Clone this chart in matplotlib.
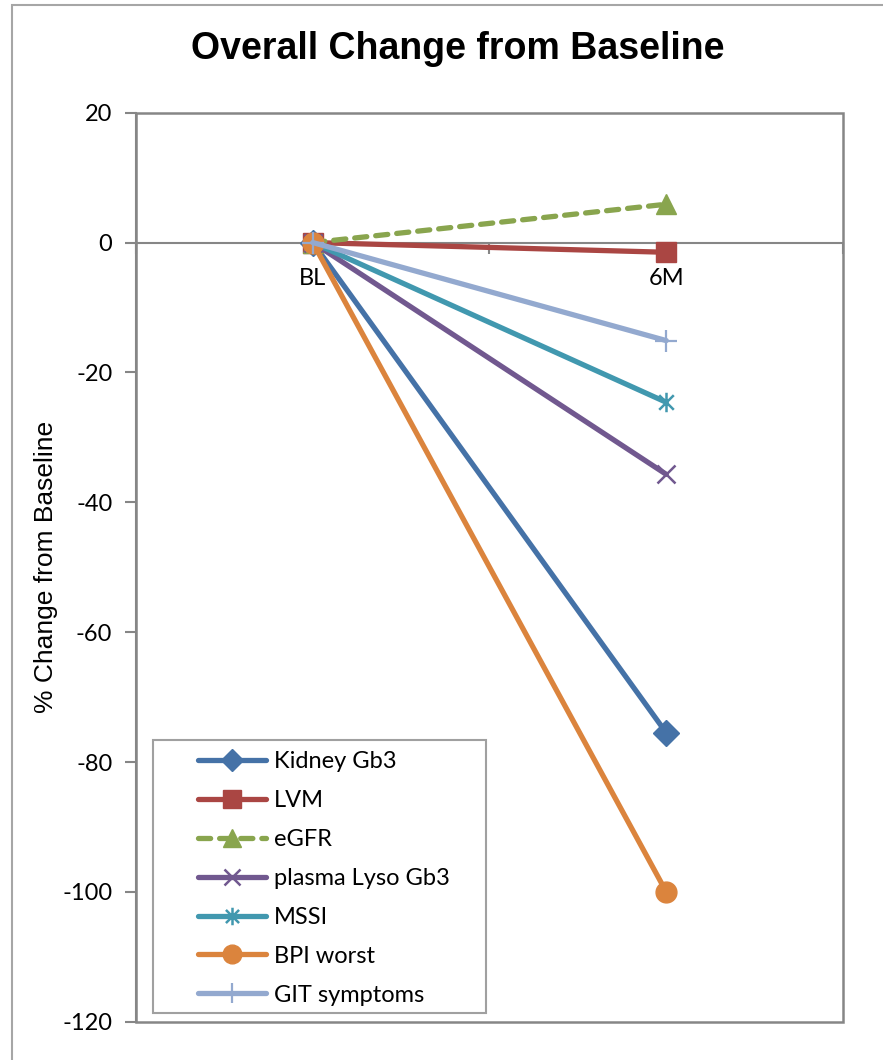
import matplotlib
matplotlib.use("Agg")
import matplotlib.pyplot as plt
from matplotlib.patches import Rectangle
from matplotlib.path import Path

plt.rcParams["axes.unicode_minus"] = False

# time points and % change from baseline for each measure
timepoints = ["BL", "6M"]
series_names = ["Kidney Gb3", "LVM", "eGFR", "plasma Lyso Gb3", "MSSI", "BPI worst", "GIT symptoms"]
kidney_gb3 = [0, -75.5]
lvm = [0, -1.5]
egfr = [0, 5.9]
lyso_gb3 = [0, -35.7]
mssi = [0, -24.6]
bpi_worst = [0, -100]
git_symptoms = [0, -15.1]

values = [kidney_gb3, lvm, egfr, lyso_gb3, mssi, bpi_worst, git_symptoms]

# asterisk marker: vertical bar plus an x
star = Path([(0, -1), (0, 1), (-0.75, -0.75), (0.75, 0.75), (-0.75, 0.75), (0.75, -0.75)],
            [Path.MOVETO, Path.LINETO, Path.MOVETO, Path.LINETO, Path.MOVETO, Path.LINETO])

styles = [
    dict(color="#4572A7", marker="D", ms=13),
    dict(color="#AA4643", marker="s", ms=14),
    dict(color="#89A54E", marker="^", ms=15, ls=(0, (2.3, 1.7))),
    dict(color="#71588F", marker="x", ms=13, mew=1.8),
    dict(color="#4198AF", marker=star, ms=14, mew=1.8),
    dict(color="#DB843D", marker="o", ms=15),
    dict(color="#93A9CF", marker="+", ms=16, mew=1.6),
]

grey = "#868686"
lato = ["Lato", "DejaVu Sans"]
arial = ["Liberation Sans", "DejaVu Sans"]

W, H = 883, 1060
fig = plt.figure(figsize=(W / 100, H / 100), dpi=100)
ax = fig.add_axes([0.154, 0.0361, 0.8007, 0.8576])

x = list(range(len(timepoints)))
for i, (name, vals, st) in enumerate(zip(series_names, values, styles)):
    st = dict(st)
    ls = st.pop("ls", "-")
    ax.plot(x, vals, label=name, lw=3.8, linestyle=ls, dash_capstyle="round",
            solid_capstyle="round", markeredgecolor=st["color"], zorder=3 + i, **st)

ax.set_xlim(-0.5, 1.5)
ax.set_ylim(-120, 20)
ax.set_yticks(range(-120, 21, 20))
ax.tick_params(axis="y", length=8, width=1.5, color=grey, pad=9, labelsize=17)
for lab in ax.get_yticklabels():
    lab.set_family(lato)

# category axis sits on the zero line
ax.spines["bottom"].set_position(("data", 0))
ax.set_xticks([-0.5, 0.5, 1.5])
ax.set_xticklabels([])
ax.set_xticks(x, minor=True)
ax.set_xticklabels(timepoints, minor=True, fontsize=17, family=lato)
ax.tick_params(axis="x", which="major", length=8, width=1.5, color=grey)
ax.tick_params(axis="x", which="minor", length=0, pad=18)
for side in ["top", "right"]:
    ax.spines[side].set_visible(False)
for side in ["left", "bottom"]:
    ax.spines[side].set_color(grey)
    ax.spines[side].set_linewidth(1.5)
ax.add_patch(Rectangle((0, 0), 1, 1, transform=ax.transAxes, fill=False,
                       ec=grey, lw=1.8, clip_on=False, zorder=1))

ax.set_ylabel("% Change from Baseline", fontsize=19, family=arial)
ax.yaxis.set_label_coords(-0.11, 0.5)

fig.text(0.518, 0.954, "Overall Change from Baseline", ha="center", va="center",
         fontsize=27, fontweight="bold", family=arial)

# legend entries, frame drawn separately so the handles sit further in
leg = ax.legend(loc="upper left", bbox_to_anchor=((198 - 136) / 707, (1021.7 - 751) / 909),
                borderaxespad=0, borderpad=0, frameon=False, prop={"family": lato, "size": 17},
                handlelength=2.9, handletextpad=0.3, labelspacing=0.76, markerscale=0.9)
leg.set_zorder(20)
ax.add_patch(Rectangle((153 / W, 1 - 1013 / H), (486 - 153) / W, (1013 - 740) / H,
                       transform=fig.transFigure, facecolor="white", ec="#A0A0A0",
                       lw=1.5, zorder=19, clip_on=False))

# outer chart border
fig.patches.append(Rectangle((12 / W, -0.1), 1.2, 1 - 5 / H + 0.1, transform=fig.transFigure,
                             fill=False, ec="#A6A6A6", lw=1.5))

fig.savefig("out.png", dpi=100)
